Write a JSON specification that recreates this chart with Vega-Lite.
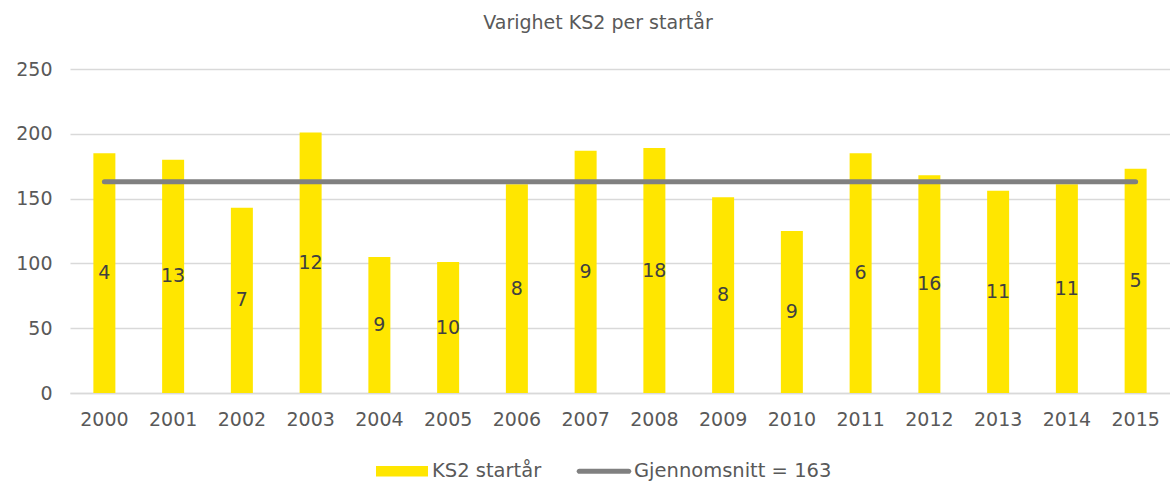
{
  "$schema": "https://vega.github.io/schema/vega-lite/v6.json",
  "width": 1100,
  "height": 324,
  "autosize": {"type": "none"},
  "padding": {"left": 70, "top": 69, "right": 0, "bottom": 89},
  "background": "white",
  "config": {
    "font": "DejaVu Sans",
    "view": {"stroke": null},
    "axis": {"labelColor": "#595959", "labelFont": "DejaVu Sans", "labelFontSize": 19, "ticks": false}
  },
  "title": {
    "text": "Varighet KS2 per startår",
    "fontSize": 19,
    "fontWeight": "normal",
    "color": "#595959",
    "dx": -22,
    "offset": 27
  },
  "data": {
    "values": [
      {"year": "2000", "varighet": 185, "antall": 4},
      {"year": "2001", "varighet": 180, "antall": 13},
      {"year": "2002", "varighet": 143, "antall": 7},
      {"year": "2003", "varighet": 201, "antall": 12},
      {"year": "2004", "varighet": 105, "antall": 9},
      {"year": "2005", "varighet": 101, "antall": 10},
      {"year": "2006", "varighet": 161, "antall": 8},
      {"year": "2007", "varighet": 187, "antall": 9},
      {"year": "2008", "varighet": 189, "antall": 18},
      {"year": "2009", "varighet": 151, "antall": 8},
      {"year": "2010", "varighet": 125, "antall": 9},
      {"year": "2011", "varighet": 185, "antall": 6},
      {"year": "2012", "varighet": 168, "antall": 16},
      {"year": "2013", "varighet": 156, "antall": 11},
      {"year": "2014", "varighet": 161, "antall": 11},
      {"year": "2015", "varighet": 173, "antall": 5}
    ]
  },
  "encoding": {
    "x": {
      "field": "year", "type": "ordinal",
      "scale": {"paddingInner": 0.68, "paddingOuter": 0.34},
      "axis": {"title": null, "labelAngle": 0, "labelPadding": 17, "domain": true, "domainColor": "#d9d9d9", "domainWidth": 1.5, "grid": false}
    }
  },
  "layer": [
    {
      "mark": {"type": "bar"},
      "encoding": {
        "y": {
          "field": "varighet", "type": "quantitative",
          "scale": {"domain": [0, 250], "nice": false},
          "axis": {"title": null, "values": [0, 50, 100, 150, 200, 250], "domain": false, "grid": true, "gridColor": "#d9d9d9", "gridWidth": 1.5, "labelPadding": 18}
        },
        "color": {
          "datum": "KS2 startår",
          "scale": {"domain": ["KS2 startår", "Gjennomsnitt = 163"], "range": ["#FFE600", "#808080"]},
          "legend": {
            "title": null,
            "orient": "none",
            "direction": "horizontal",
            "legendX": 306,
            "legendY": 376,
            "labelFontSize": 19.5,
            "labelColor": "#595959",
            "labelFont": "DejaVu Sans",
            "labelLimit": 400,
            "symbolSize": 2704,
            "labelOffset": 4,
            "columnPadding": 34,
            "symbolStrokeWidth": 0,
            "encode": {
              "symbols": {
                "update": {
                  "shape": {"signal": "datum.value === 'KS2 startår' ? 'M-1,-0.2H1V0.2H-1Z' : 'M-0.95,-0.1H0.95A0.1,0.1 0 0 1 0.95,0.1H-0.95A0.1,0.1 0 0 1 -0.95,-0.1Z'"},
                  "fill": {"signal": "datum.value === 'KS2 startår' ? '#FFE600' : '#808080'"},
                  "strokeWidth": {"value": 0},
                  "opacity": {"value": 1}
                }
              }
            }
          }
        }
      }
    },
    {
      "transform": [{"calculate": "datum.varighet / 2", "as": "midt"}],
      "mark": {"type": "text", "fontSize": 19, "font": "DejaVu Sans", "color": "#404040", "baseline": "middle", "align": "center"},
      "encoding": {
        "y": {"field": "midt", "type": "quantitative"},
        "text": {"field": "antall", "type": "quantitative"}
      }
    },
    {
      "mark": {"type": "line", "strokeWidth": 5, "strokeCap": "round"},
      "encoding": {
        "y": {"datum": 163},
        "color": {"datum": "Gjennomsnitt = 163"}
      }
    }
  ]
}
